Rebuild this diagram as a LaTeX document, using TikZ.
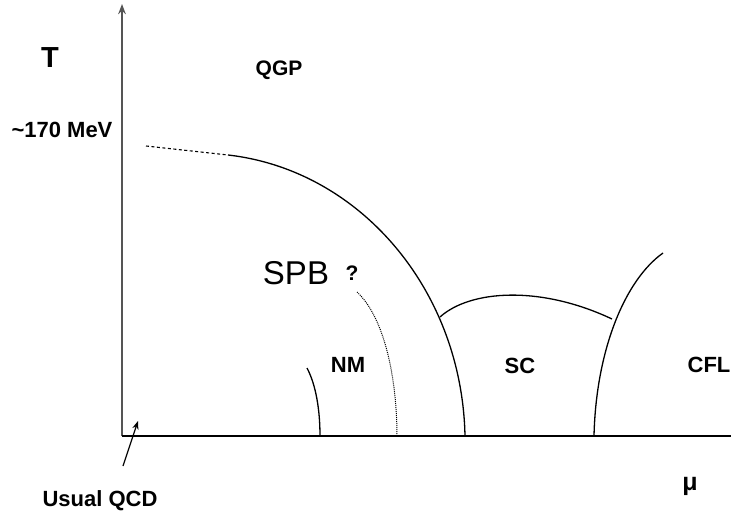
\documentclass[tikz,border=0pt]{standalone}
\usepackage{fontspec}
\setmainfont{Liberation Sans}
\usepackage{tikz}
\usetikzlibrary{arrows.meta, positioning, calc}
\definecolor{axisgray}{HTML}{555555}
\tikzset{
  phase/.style={font=\fontsize{22}{24}\selectfont\bfseries},
  boundary/.style={line width=1.3pt, black},
}

\begin{document}
\begin{tikzpicture}[x=1pt, y=-1pt, >=Stealth]
  \useasboundingbox (0,0) rectangle (732,516);
  % axes
  \coordinate (origin) at (122,436);
  \coordinate (tmax) at (122,4);
  \coordinate (mumax) at (731,436);
  \draw[->, line width=1.6pt, axisgray] (origin) -- (tmax);
  \draw[line width=1.6pt] (origin) -- (mumax);
  \node[font=\fontsize{29}{31}\selectfont\bfseries] (tlab) at (50,58) {T};
  \node[font=\fontsize{25}{27}\selectfont\bfseries] (mulab) at (690,486) {μ};
  \node[phase] (tc) at (62,130) {\textasciitilde170 MeV};
  % phase boundaries
  \draw[boundary, line width=1.1pt, dash pattern=on 3pt off 2.5pt] (146,146) -- (228,155);
  \draw[boundary] (228,155) .. controls (360,170) and (462,290) .. (465,436);
  \draw[boundary] (307,368) .. controls (316,385) and (320,410) .. (320,436);
  \draw[line width=1pt, densely dotted] (357,292) .. controls (385,318) and (397,380) .. (397,436);
  \draw[boundary] (440,317) .. controls (470,290) and (540,285) .. (612,319);
  \draw[boundary] (594,436) .. controls (596,350) and (625,280) .. (663,253);
  % regions
  \node[phase, font=\fontsize{21}{23}\selectfont\bfseries] (qgp) at (279,70) {QGP};
  \node[font=\fontsize{33}{35}\selectfont] (spb) at (296,273) {SPB};
  \node[font=\fontsize{21}{23}\selectfont\bfseries] (spbq) at (352,273) {?};
  \node[phase] (nm) at (348,365) {NM};
  \node[phase] (sc) at (520,366) {SC};
  \node[phase] (cfl) at (709,365) {CFL};
  \node[phase] (usual) at (100,501) {Usual QCD};
  \coordinate (qcdpt) at (138,421);
  \draw[->, line width=1.2pt] (123,466) -- (qcdpt);
\end{tikzpicture}
\end{document}
